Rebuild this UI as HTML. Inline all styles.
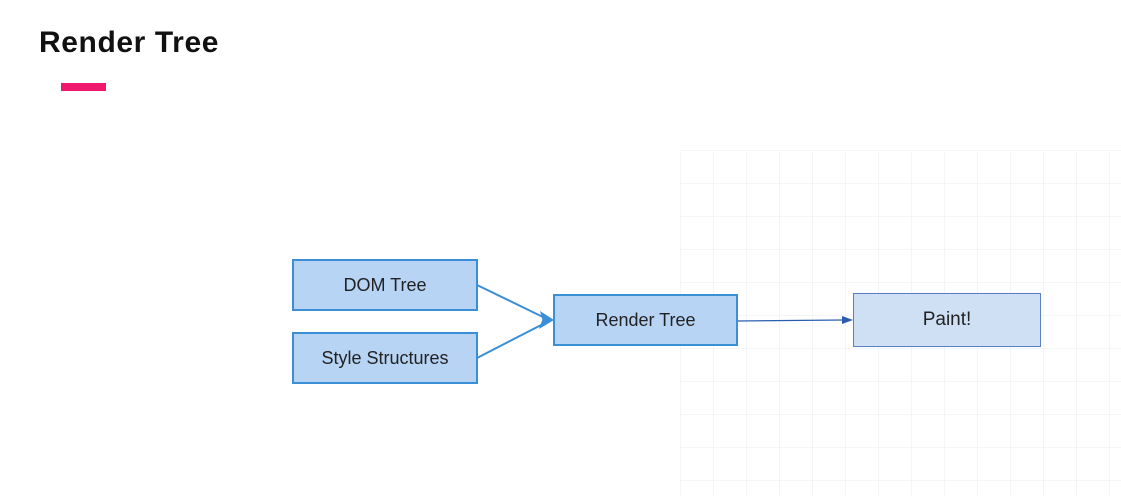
<!DOCTYPE html>
<html><head><style>
body{margin:0;width:1121px;height:496px;background:#fff;overflow:hidden;position:relative;font-family:"Liberation Sans",Arial,sans-serif}
.t{position:absolute;left:39px;top:26px;font-size:30px;letter-spacing:0.6px;font-weight:bold;color:#111}
.bar{position:absolute;left:61px;top:83px;width:45px;height:8px;background:#f0186e}
.b{position:absolute;box-sizing:border-box;background:#b7d4f5;border:2px solid #3a8fd6;display:flex;align-items:center;justify-content:center;font-size:18px;color:#222}
.grid{position:absolute;left:680px;top:150px;width:441px;height:346px;background-image:linear-gradient(#f1f3f6 1px,transparent 1px),linear-gradient(90deg,#f1f3f6 1px,transparent 1px);background-size:33px 33px;opacity:.8}
</style></head><body>
<div class="grid"></div>
<div class="t">Render Tree</div>
<div class="bar"></div>
<svg width="1121" height="496" style="position:absolute;left:0;top:0">
<line x1="477" y1="285" x2="545" y2="318" stroke="#3a8fd6" stroke-width="2"/>
<line x1="477" y1="358" x2="545" y2="323" stroke="#3a8fd6" stroke-width="2"/>
<polygon points="554,320 540,311 543,322" fill="#3a8fd6"/>
<polygon points="554,320 543,318 539,329" fill="#3a8fd6"/>
<line x1="737" y1="321" x2="843" y2="320" stroke="#2a5db0" stroke-width="1.3"/>
<polygon points="853,320 842,316 842,324" fill="#2a5db0"/>
</svg>
<div class="b" style="left:292px;top:259px;width:186px;height:52px">DOM Tree</div>
<div class="b" style="left:292px;top:332px;width:186px;height:52px">Style Structures</div>
<div class="b" style="left:553px;top:294px;width:185px;height:52px">Render Tree</div>
<div class="b" style="left:853px;top:293px;width:188px;height:54px;background:#cfe0f5;border:1.5px solid #5b7fc4;font-size:19px">Paint!</div>
</body></html>
